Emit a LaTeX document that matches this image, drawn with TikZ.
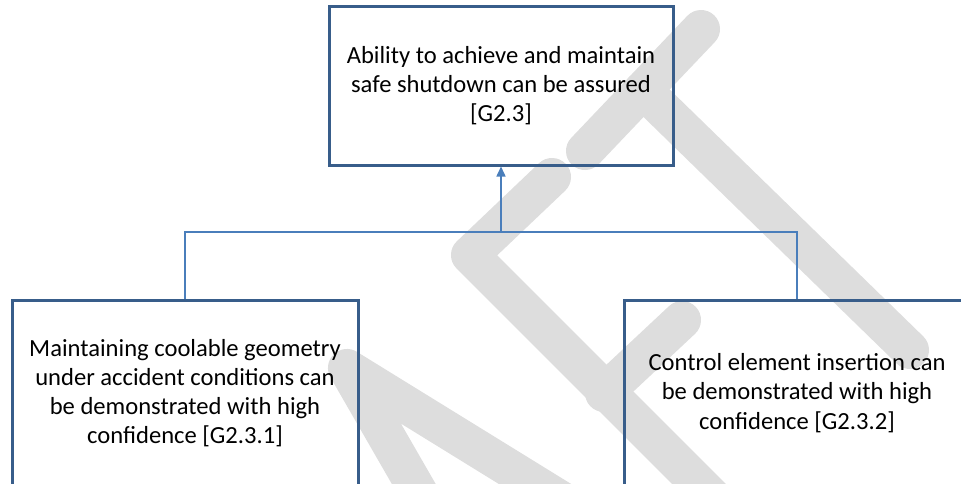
\documentclass[tikz,border=0pt]{standalone}
\usepackage{fontspec}
\setmainfont{Carlito}
\usetikzlibrary{arrows.meta}
\definecolor{boxline}{RGB}{56,93,138}
\definecolor{linkline}{RGB}{74,126,187}
\definecolor{stamp}{RGB}{221,221,221}
\begin{document}
\begin{tikzpicture}[x=1pt,y=-1pt,
  goal/.style={draw=boxline, line width=3pt, rectangle, align=center,
    inner sep=0pt, text=black, font=\fontsize{24.6}{29.2}\selectfont},
  link/.style={draw=linkline, line width=1.5pt},
  stamp stroke/.style={draw=stamp, line width=38pt, line cap=round, line join=round}]
\useasboundingbox (0,0) rectangle (961,483);
\clip (0,0) rectangle (961,483);

% "DRAFT" watermark strokes (A, F and T, seen diagonally)
\draw[stamp stroke] (423,500) -- (347,368) -- (561,500);
\draw[stamp stroke] (552,177) -- (470,255) -- (720,505);
\draw[stamp stroke] (604,393) -- (682,320);
\draw[stamp stroke] (585,151) -- (701,29);
\draw[stamp stroke] (643,90) -- (910,350);

% goal boxes
\node[goal, minimum width=344pt, minimum height=159pt] (g) at (501,85.5)
  {Ability to achieve and maintain\\safe shutdown can be assured\\{[G2.3]}};
\node[goal, minimum width=346pt, minimum height=186pt] (c1) at (185,393)
  {Maintaining coolable geometry\\under accident conditions can\\be demonstrated with high\\confidence [G2.3.1]};
\node[goal, minimum width=346pt, minimum height=186pt] (c2) at (797,393)
  {Control element insertion can\\be demonstrated with high\\confidence [G2.3.2]};

% supporting links
\coordinate (j) at (501,232);
\draw[link] (c1.north) |- (j);
\draw[link] (c2.north) |- (j);
\draw[link, -{Triangle[length=10pt,width=9pt]}] (j) -- (g.south);
\end{tikzpicture}
\end{document}
